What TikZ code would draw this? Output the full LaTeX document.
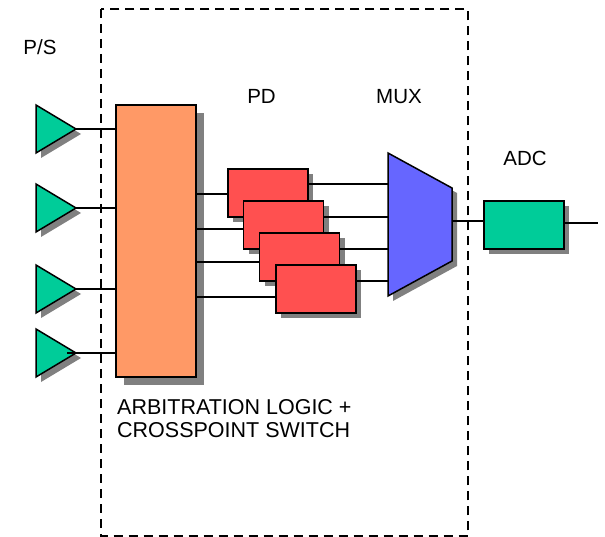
\documentclass[tikz,border=0pt]{standalone}
\usepackage{fontspec}
\setmainfont{Liberation Sans}
\usetikzlibrary{positioning, shadows}
\definecolor{arbfill}{HTML}{FF9966}
\definecolor{pdfill}{HTML}{FF5050}
\definecolor{psfill}{HTML}{00CC99}
\definecolor{muxfill}{HTML}{6666FF}

\begin{document}
\begin{tikzpicture}[
  x=1pt, y=-1pt,
  shade5/.style = {drop shadow={shadow xshift=5pt, shadow yshift=-5pt,
                   fill=black!50, opacity=1}},
  shade8/.style = {drop shadow={shadow xshift=8pt, shadow yshift=-8pt,
                   fill=black!50, opacity=1}},
  block/.style  = {rectangle, draw, line width=1.5pt, inner sep=0pt},
  pdbox/.style  = {block, fill=pdfill, minimum width=80pt,
                   minimum height=48pt, shade5},
  amp/.style    = {draw, line width=1.5pt, fill=psfill, shade5},
  wire/.style   = {line width=1.2pt},
  lbl/.style    = {font=\fontsize{20.5}{23}\selectfont, inner sep=0pt}
]
\useasboundingbox (0,0) rectangle (605,537);
% Chip boundary
\draw[line width=2pt, dash pattern=on 9pt off 6pt] (100.7,9) rectangle (468,536);
% P/S amplifiers
\coordinate (ps1) at (76,129);
\coordinate (ps2) at (76,208);
\coordinate (ps3) at (76,289);
\coordinate (ps4) at (76,353);
\draw[amp] (ps1) -- ++(-40,-24) -- ++(0,48) -- cycle;
\draw[amp] (ps2) -- ++(-40,-24) -- ++(0,48) -- cycle;
\draw[amp] (ps3) -- ++(-40,-24) -- ++(0,48) -- cycle;
\draw[amp] (ps4) -- ++(-40,-24) -- ++(0,48) -- cycle;
% Arbitration logic
\node[block, fill=arbfill, minimum width=80pt, minimum height=272pt, shade8]
  (arb) at (156,241) {};
% PD stack
\node[pdbox] (pd1) at (268,193) {};
\node[pdbox] (pd2) at (283.5,225) {};
\node[pdbox] (pd3) at (299.5,257) {};
\node[pdbox] (pd4) at (316,289) {};
% MUX
\coordinate (muxtl) at (388,153);
\coordinate (muxout) at (452,221);
\draw[line width=1.5pt, fill=muxfill, shade5]
  (muxtl) -- (452,188) -- (452,261) -- (388,296) -- cycle;
% ADC
\node[block, fill=psfill, minimum width=80pt, minimum height=48pt, shade5]
  (adc) at (524,225) {};
% P/S -> arbitration
\draw[wire] (ps1) -- (arb.west |- ps1);
\draw[wire] (ps2) -- (arb.west |- ps2);
\draw[wire] (ps3) -- (arb.west |- ps3);
\draw[wire] ([xshift=-9pt]ps4) -- (arb.west |- ps4);
% Arbitration -> PD
\coordinate (pdin1) at ([yshift=-1pt]pd1.west);
\coordinate (pdin2) at ([yshift=-4pt]pd2.west);
\coordinate (pdin3) at ([yshift=-5pt]pd3.west);
\coordinate (pdin4) at ([yshift=-8pt]pd4.west);
\draw[wire] (arb.east |- pdin1) -- (pdin1);
\draw[wire] (arb.east |- pdin2) -- (pdin2);
\draw[wire] (arb.east |- pdin3) -- (pdin3);
\draw[wire] (arb.east |- pdin4) -- (pdin4);
% PD -> MUX
\coordinate (pdout1) at ([yshift=9pt]pd1.east);
\coordinate (pdout2) at ([yshift=8pt]pd2.east);
\coordinate (pdout3) at ([yshift=8pt]pd3.east);
\coordinate (pdout4) at ([yshift=8pt]pd4.east);
\draw[wire] (pdout1) -- (pdout1 -| muxtl);
\draw[wire] (pdout2) -- (pdout2 -| muxtl);
\draw[wire] (pdout3) -- (pdout3 -| muxtl);
\draw[wire] (pdout4) -- (pdout4 -| muxtl);
% MUX -> ADC -> out
\draw[wire] (muxout) -- (adc.west |- muxout);
\coordinate (adcout) at ([yshift=2pt]adc.east);
\draw[wire] (adcout) -- ++(33,0);
% Labels
\node[lbl, anchor=base] (pslbl)  at (40,55)     {P/S};
\node[lbl, anchor=base] (pdlbl)  at (261.5,104) {PD};
\node[lbl, anchor=base] (muxlbl) at (399,104)   {MUX};
\node[lbl, anchor=base] (adclbl) at (525,166)   {ADC};
\node[lbl, anchor=north west, align=left, font=\fontsize{21.5}{23}\selectfont]
  (arblbl) at (117,399) {ARBITRATION LOGIC +\\CROSSPOINT SWITCH};
\end{tikzpicture}
\end{document}
